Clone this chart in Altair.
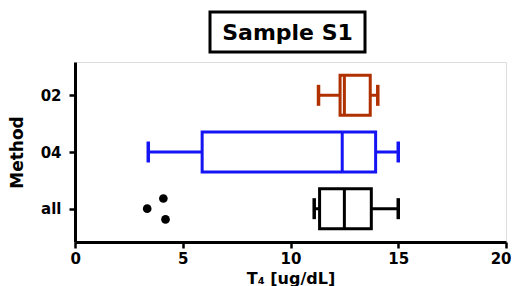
import altair as alt
import pandas as pd

methods = ["all", "04", "02"]
method_idx = [0, 1, 2]
colors = ["#000000", "#1414f5", "#b03000"]
whisker_lo = [11.1, 3.4, 11.3]
q1 = [11.35, 5.9, 12.3]
median = [12.5, 12.4, 12.5]
q3 = [13.75, 13.95, 13.7]
whisker_hi = [15.0, 15.0, 14.05]

outlier_method = [0, 0, 0]
outlier_val = [3.35, 4.1, 4.2]
outlier_jitter = [0.0, 0.18, -0.19]

df = pd.DataFrame({
    "Method": methods, "idx": method_idx, "color": colors,
    "wlo": whisker_lo, "q1": q1, "med": median, "q3": q3, "whi": whisker_hi,
})
out = pd.DataFrame({"idx": [m + j for m, j in zip(outlier_method, outlier_jitter)],
                    "val": outlier_val})

FONT = "DejaVu Sans"
xscale = alt.Scale(domain=[0, 20], nice=False)
yscale = alt.Scale(domain=[-0.5, 2.5], nice=False, zero=False)

xax = alt.Axis(values=[0, 5, 10, 15, 20], grid=False, domainWidth=3, domainColor="black",
               tickWidth=2.5, tickSize=6, tickColor="black", labelFont=FONT, labelFontWeight="bold",
               labelFontSize=15, labelColor="black", labelPadding=3, labelFlush=True,
               labelFlushOffset=5,
               title="T₄ [ug/dL]",
               titleFont=FONT, titleFontWeight="bold", titleFontSize=16, titleColor="black",
               titlePadding=4)
yax = alt.Axis(values=[0, 1, 2], grid=False, domainWidth=3, domainColor="black",
               tickWidth=2.5, tickSize=6, tickColor="black", labelFont=FONT, labelFontWeight="bold",
               labelFontSize=15, labelColor="black", labelPadding=8, labelFlush=False,
               labelExpr="datum.value == 0 ? 'all' : datum.value == 1 ? '04' : '02'",
               title="Method", titleFont=FONT, titleFontWeight="bold", titleFontSize=17,
               titleColor="black", titlePadding=14)

base = alt.Chart(df)
col = alt.Color("color:N", scale=None)

whisk = base.mark_rule(strokeWidth=3, opacity=1).encode(
    x=alt.X("wlo:Q", scale=xscale, axis=xax), x2="whi:Q",
    y=alt.Y("idx:Q", scale=yscale, axis=yax), color=col)
box = base.mark_bar(size=40, fill="white", strokeWidth=3, orient="horizontal", opacity=1).encode(
    x=alt.X("q1:Q", scale=xscale), x2="q3:Q", y=alt.Y("idx:Q", scale=yscale), stroke=col)
med = base.mark_tick(orient="vertical", size=40, thickness=3, opacity=1).encode(
    x=alt.X("med:Q", scale=xscale), y=alt.Y("idx:Q", scale=yscale), color=col)
caplo = base.mark_tick(orient="vertical", size=21, thickness=3.5, opacity=1).encode(
    x=alt.X("wlo:Q", scale=xscale), y=alt.Y("idx:Q", scale=yscale), color=col)
caphi = base.mark_tick(orient="vertical", size=21, thickness=3.5, opacity=1).encode(
    x=alt.X("whi:Q", scale=xscale), y=alt.Y("idx:Q", scale=yscale), color=col)
pts = alt.Chart(out).mark_point(filled=True, color="black", size=75, opacity=1).encode(
    x=alt.X("val:Q", scale=xscale), y=alt.Y("idx:Q", scale=yscale))

title_df = pd.DataFrame({"t": ["Sample S1"]})
tbox = alt.Chart(title_df).mark_rect(fill="white", stroke="black", strokeWidth=3).encode(
    x=alt.value(135), x2=alt.value(290), y=alt.value(-50), y2=alt.value(-10))
ttext = alt.Chart(title_df).mark_text(font=FONT, fontWeight="bold", fontSize=22, color="black",
                                       baseline="middle", align="center").encode(
    x=alt.value(212.5), y=alt.value(-29), text="t:N")

chart = alt.layer(whisk, box, med, caplo, caphi, pts, tbox, ttext).properties(
    width=431, height=180,
    autosize=alt.AutoSizeParams(type="none"),
    padding={"left": 67, "top": 54, "right": 5, "bottom": 44},
).configure_view(stroke=None).configure(background="white")

chart.save("out.html", embed_options={"renderer": "svg", "actions": False})
